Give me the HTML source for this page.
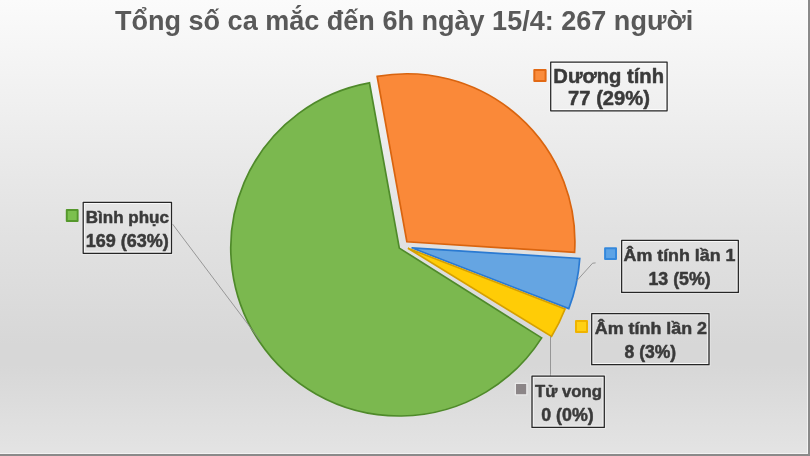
<!DOCTYPE html>
<html lang="vi"><head><meta charset="utf-8"><title>Tổng số ca mắc</title>
<style>
html,body{margin:0;padding:0;width:810px;height:456px;overflow:hidden;background:#e4e4e4}
svg{display:block;position:absolute;left:0;top:0}
text{font-family:"Liberation Sans",Arial,sans-serif;font-weight:bold}
</style></head><body>
<svg width="810" height="456" viewBox="0 0 810 456">
<defs>
<linearGradient id="bg" x1="0" y1="0" x2="0" y2="1">
<stop offset="0" stop-color="#fbfbfb"/>
<stop offset="0.5" stop-color="#e2e2e2"/>
<stop offset="0.757" stop-color="#d7d7d7"/>
<stop offset="0.80" stop-color="#d7d7d7"/>
<stop offset="1" stop-color="#e4e4e4"/>
</linearGradient>
</defs>
<rect x="0" y="0" width="810" height="456" fill="url(#bg)"/>
<rect x="0" y="453" width="808" height="1" fill="#ffffff" fill-opacity="0.5"/>
<rect x="807" y="0" width="1" height="453" fill="#ffffff" fill-opacity="0.6"/>
<rect x="0" y="454" width="810" height="2" fill="#8a8a8a"/>
<rect x="808" y="0" width="2" height="456" fill="#8a8a8a"/>
<text x="404.1" y="29.6" font-size="27.2" text-anchor="middle" fill="#595959" textLength="578.3" lengthAdjust="spacingAndGlyphs">Tổng số ca mắc đến 6h ngày 15/4: 267 người</text>

<path d="M406.90,241.80 L377.15,76.46 A168.0,168.0 0 0 1 574.56,252.41 Z" fill="#fa8939" stroke="#d9640f" stroke-width="1.7" stroke-linejoin="miter"/>
<path d="M411.60,247.80 L579.76,258.44 A168.5,168.5 0 0 1 568.75,308.59 Z" fill="#65a5e2" stroke="#2a7ad2" stroke-width="1.7" stroke-linejoin="miter"/>
<path d="M407.90,248.20 L565.05,308.99 A168.5,168.5 0 0 1 551.44,336.45 Z" fill="#ffcc06" stroke="#d6a000" stroke-width="1.7" stroke-linejoin="miter"/>
<path d="M399.30,248.10 L541.67,337.90 A168.5,167.9 0 1 1 369.46,82.85 Z" fill="#7bb84f" stroke="#4f8a2a" stroke-width="1.7" stroke-linejoin="miter"/>

<g fill="none" stroke="#8a8a8a" stroke-width="0.85">
<polyline points="576.8,280.7 592.6,263.2 595.6,262.9"/>
<polyline points="550.5,336 550.5,376"/>
<polyline points="172.5,224 261,341.6"/>
</g>
<g fill="#3a3a3a" stroke="#3a3a3a" stroke-width="0.5" stroke-linejoin="round">
<rect x="534.30" y="70.10" width="11.30" height="10.90" fill="#fa8c3c" stroke="#e26914" stroke-width="2.0"/>
<rect x="549.55" y="60.85" width="118.70" height="51.10" fill="none" stroke="#ffffff" stroke-opacity="0.3" stroke-width="1.1"/>
<rect x="551.85" y="63.15" width="114.10" height="46.50" fill="none" stroke="#ffffff" stroke-opacity="0.75" stroke-width="1.1"/>
<rect x="550.70" y="62.00" width="116.40" height="48.80" fill="none" stroke="#262626" stroke-width="1.25"/>
<text x="553.35" y="82.6" font-size="20.0" textLength="110.62" lengthAdjust="spacingAndGlyphs">Dương tính</text>
<text x="568.12" y="104.8" font-size="20.0" textLength="81.81" lengthAdjust="spacingAndGlyphs">77 (29%)</text>
<rect x="605.10" y="248.30" width="10.90" height="10.70" fill="#5ca3e6" stroke="#3488dc" stroke-width="2.0"/>
<rect x="620.50" y="239.25" width="119.00" height="54.30" fill="none" stroke="#ffffff" stroke-opacity="0.3" stroke-width="1.1"/>
<rect x="622.80" y="241.55" width="114.40" height="49.70" fill="none" stroke="#ffffff" stroke-opacity="0.75" stroke-width="1.1"/>
<rect x="621.65" y="240.40" width="116.70" height="52.00" fill="none" stroke="#262626" stroke-width="1.25"/>
<text x="623.54" y="260.9" font-size="17.0" textLength="111.93" lengthAdjust="spacingAndGlyphs">Âm tính lần 1</text>
<text x="648.46" y="284.8" font-size="17.6" textLength="62.23" lengthAdjust="spacingAndGlyphs">13 (5%)</text>
<rect x="576.00" y="320.90" width="11.00" height="11.10" fill="#ffd015" stroke="#efb300" stroke-width="2.0"/>
<rect x="590.55" y="312.45" width="119.60" height="53.40" fill="none" stroke="#ffffff" stroke-opacity="0.3" stroke-width="1.1"/>
<rect x="592.85" y="314.75" width="115.00" height="48.80" fill="none" stroke="#ffffff" stroke-opacity="0.75" stroke-width="1.1"/>
<rect x="591.70" y="313.60" width="117.30" height="51.10" fill="none" stroke="#262626" stroke-width="1.25"/>
<text x="594.85" y="333.5" font-size="17.0" textLength="112.11" lengthAdjust="spacingAndGlyphs">Âm tính lần 2</text>
<text x="624.53" y="358.0" font-size="17.6" textLength="51.7" lengthAdjust="spacingAndGlyphs">8 (3%)</text>
<rect x="515.35" y="383.35" width="11.50" height="11.50" fill="#8b8587" stroke="#e9e9e9" stroke-width="1.3"/>
<rect x="530.85" y="374.85" width="74.60" height="53.70" fill="none" stroke="#ffffff" stroke-opacity="0.3" stroke-width="1.1"/>
<rect x="533.15" y="377.15" width="70.00" height="49.10" fill="none" stroke="#ffffff" stroke-opacity="0.75" stroke-width="1.1"/>
<rect x="532.00" y="376.00" width="72.30" height="51.40" fill="none" stroke="#262626" stroke-width="1.25"/>
<text x="534.99" y="397.2" font-size="17.0" textLength="66.89" lengthAdjust="spacingAndGlyphs">Tử vong</text>
<text x="541.28" y="420.5" font-size="17.6" textLength="52.43" lengthAdjust="spacingAndGlyphs">0 (0%)</text>
<rect x="66.75" y="209.95" width="10.90" height="11.00" fill="#7cc04e" stroke="#55982c" stroke-width="1.9"/>
<rect x="82.05" y="201.15" width="90.60" height="53.30" fill="none" stroke="#ffffff" stroke-opacity="0.3" stroke-width="1.1"/>
<rect x="84.35" y="203.45" width="86.00" height="48.70" fill="none" stroke="#ffffff" stroke-opacity="0.75" stroke-width="1.1"/>
<rect x="83.20" y="202.30" width="88.30" height="51.00" fill="none" stroke="#262626" stroke-width="1.25"/>
<text x="85.74" y="222.5" font-size="17.0" textLength="83.21" lengthAdjust="spacingAndGlyphs">Bình phục</text>
<text x="85.77" y="247.0" font-size="17.6" textLength="83.06" lengthAdjust="spacingAndGlyphs">169 (63%)</text>

</g>
</svg>
</body></html>
